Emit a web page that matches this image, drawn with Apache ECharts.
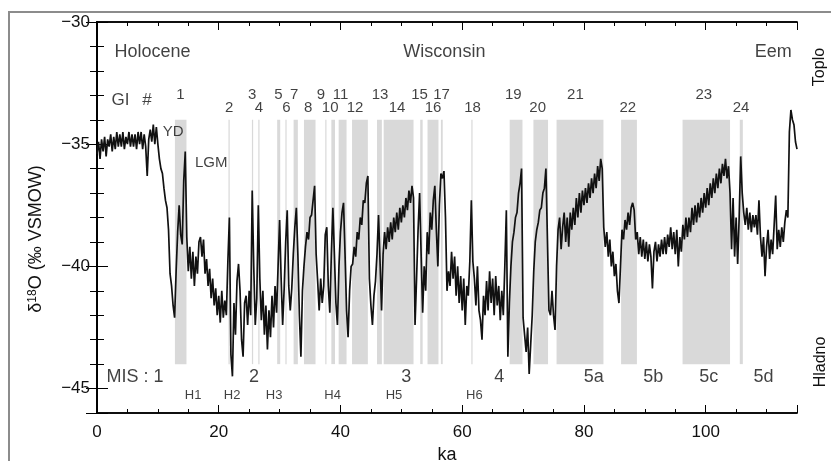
<!DOCTYPE html>
<html><head><meta charset="utf-8">
<script src="https://cdn.jsdelivr.net/npm/echarts@6/dist/echarts.min.js"></script>
<style>html,body{margin:0;padding:0;background:#fff}#c{width:831px;height:461px}</style>
</head><body><div id="c"></div>
<script>
// ---- data ----
const startKa = 0;
const stepKa = 0.25;
const d18O = [
-35.4,-34.9,-35.6,-34.8, -35.3,-34.7,-35.5,-34.8, -35.1,-34.6,-35.3,-34.7, -35.2,-34.5,-35.1,-34.6,
-35.1,-34.5,-35.2,-34.7, -35.0,-34.5,-35.1,-34.6, -35.1,-34.6,-35.2,-34.5, -35.0,-34.5,-35.2,-34.6,
-35.1,-36.3,-34.8,-34.4, -34.9,-34.2,-35.0,-34.3, -35.0,-35.6,-36.0,-36.2, -36.8,-37.3,-37.6,-38.5,
-40.3,-40.8,-41.6,-42.1, -40.2,-38.6,-37.5,-38.7, -39.1,-36.5,-35.3,-38.8, -40.2,-39.2,-40.5,-39.4,
-40.8,-39.6,-40.3,-39.0, -38.8,-39.6,-38.9,-40.3, -39.7,-40.8,-40.1,-41.3, -40.5,-41.6,-40.9,-42.0,
-41.2,-42.3,-41.0,-42.1, -41.4,-42.0,-39.8,-38.0, -43.6,-44.5,-41.5,-42.8, -40.6,-39.9,-41.0,-43.0,
-43.7,-41.5,-41.2,-42.4, -41.0,-42.0,-36.9,-40.0, -42.4,-41.3,-37.5,-40.5, -42.2,-41.0,-42.8,-41.6,
-43.4,-41.8,-42.9,-41.2, -42.5,-40.8,-41.9,-40.0, -38.1,-40.5,-42.4,-40.9, -39.0,-37.7,-40.8,-41.8,
-40.9,-39.5,-38.4,-37.6, -39.5,-42.0,-43.7,-41.0, -40.0,-39.2,-38.6,-38.9, -38.0,-37.9,-37.3,-36.7,
-39.5,-40.6,-41.8,-40.5, -41.5,-40.8,-38.7,-38.4, -40.8,-41.9,-39.5,-37.6, -39.5,-41.5,-42.4,-40.0,
-38.6,-37.8,-37.4,-39.5, -41.8,-42.9,-41.0,-40.0, -39.9,-39.2,-39.6,-38.6, -38.9,-38.0,-38.3,-37.3,
-37.4,-36.6,-36.3,-40.5, -41.6,-42.4,-41.2,-40.6, -39.5,-37.9,-39.8,-41.8, -39.5,-38.6,-39.3,-38.4,
-39.0,-38.2,-38.9,-38.0, -38.6,-37.8,-38.5,-37.6, -38.2,-37.5,-38.0,-37.2, -37.7,-36.9,-37.4,-36.7,
-37.2,-42.4,-40.5,-38.5, -37.0,-39.5,-41.9,-40.0, -41.0,-38.6,-39.5,-37.8, -38.5,-37.3,-36.7,-38.5,
-40.0,-37.5,-36.2,-36.4, -36.1,-38.0,-41.0,-40.2, -40.8,-39.4,-40.5,-39.6, -41.2,-40.0,-41.5,-40.4,
-41.8,-40.5,-42.4,-40.8, -41.2,-39.8,-37.3,-39.8, -40.5,-41.6,-40.0,-41.8, -42.2,-43.0,-41.2,-42.0,
-40.6,-41.8,-40.2,-41.5, -40.5,-42.0,-40.4,-41.6, -40.8,-42.2,-41.0,-42.0, -40.0,-37.7,-43.7,-41.5,
-40.0,-39.0,-38.6,-38.0, -37.8,-37.0,-36.6,-36.0, -42.1,-42.8,-43.5,-42.5, -44.4,-43.2,-42.0,-40.2,
-39.0,-38.5,-38.2,-37.7, -37.6,-37.0,-36.8,-36.0, -36.0,-41.8,-42.0,-41.0, -42.0,-42.6,-40.0,-38.5,
-38.0,-39.3,-38.4,-37.8, -39.0,-38.0,-39.2,-37.8, -38.5,-37.6,-38.3,-37.2, -38.0,-37.0,-37.8,-36.9,
-37.5,-36.8,-37.4,-36.6, -37.2,-36.4,-37.0,-36.2, -36.8,-35.9,-36.5,-35.6, -36.0,-38.4,-39.2,-38.6,
-39.6,-38.9,-40.0,-39.4, -40.4,-39.9,-41.0,-41.5, -40.0,-38.5,-38.9,-38.1, -38.5,-37.8,-38.3,-37.6,
-37.4,-37.7,-38.9,-38.6, -39.5,-38.8,-39.6,-38.9, -39.7,-39.0,-39.8,-39.1, -39.6,-40.9,-39.4,-39.0,
-39.8,-39.1,-39.6,-38.9, -39.5,-38.8,-39.5,-38.7, -39.2,-38.4,-39.3,-38.6, -39.5,-38.5,-40.0,-38.8,
-39.4,-38.3,-38.9,-38.0, -38.8,-38.0,-38.6,-37.6, -38.3,-37.5,-38.2,-37.4, -38.0,-37.2,-37.8,-37.0,
-37.6,-36.8,-37.5,-36.6, -37.2,-36.4,-37.0,-36.2, -36.8,-36.0,-36.6,-35.8, -36.3,-35.6,-36.4,-35.9,
-37.0,-39.3,-37.2,-39.6, -38.0,-39.9,-38.0,-35.5, -37.0,-37.8,-38.3,-37.6, -38.5,-37.8,-38.6,-37.9,
-38.4,-37.9,-38.7,-37.3, -38.8,-39.6,-38.8,-40.4, -39.2,-38.5,-39.7,-38.9, -39.5,-38.3,-37.1,-39.3,
-38.5,-39.2,-38.4,-39.0, -38.2,-37.7,-38.0,-34.5, -33.6,-34.0,-34.2,-34.9,
-35.2
];
// Greenland interstadials (grey bands), ka
const giNames  = ['1','2','3','4','5','6','7','8','9','10','11','12','13','14','15','16','17','18','19','20','21','22','23','24'];
const giStart  = [12.8,21.6,25.45,26.5,29.6,30.95,32.3,34.0,37.5,38.5,39.7,41.9,46.0,47.1,53.1,54.3,56.5,61.5,67.8,71.7,75.5,86.1,96.2,105.6];
const giEnd    = [14.7,21.8,25.65,26.7,30.1,31.15,33.0,35.9,37.7,39.1,41.0,44.5,46.8,52.0,53.5,56.1,56.8,61.7,69.9,74.1,83.2,88.7,104.0,106.1];
const giLabelKa = [13.7,21.7,25.5,26.6,29.8,31.1,32.4,34.7,36.8,38.3,40.0,42.4,46.5,49.3,53.0,55.2,56.6,61.7,68.4,72.4,78.6,87.2,99.7,105.8];
const bandTop = -34, bandBottom = -44;
// marine isotope stages
const misNames = ['MIS : 1','2','3','4','5a','5b','5c','5d'];
const misKa    = [6.25,25.8,50.8,66.1,81.6,91.4,100.5,109.5];
// Heinrich events
const hNames = ['H1','H2','H3','H4','H5','H6'];
const hKa    = [15.8,22.2,29.1,38.7,48.8,62.0];
// period names
const periodNames = ['Holocene','Wisconsin','Eem'];
const periodKa    = [9.13,57.07,111.1];
// other notes
const noteNames = ['GI','#','YD','LGM'];
const noteKa    = [3.87,8.22,12.5,18.75];
const noteY     = [-33.19,-33.19,-34.5,-35.77];

// ---- chart ----
const FONT = '"Liberation Sans", Arial, Helvetica, sans-serif';
const INK = '#111';
const chart = echarts.init(document.getElementById('c'));
const lineData = d18O.map((v, i) => [+(startKa + i * stepKa).toFixed(2), v]);
const bandAreas = giStart.map((s, i) => [{ xAxis: s, yAxis: bandTop }, { xAxis: giEnd[i], yAxis: bandBottom }]);
function items(texts, xs, ys, size) {
  return texts.map((t, i) => ({ value: [xs[i], Array.isArray(ys) ? ys[i] : ys],
    label: { formatter: t, fontSize: size } }));
}
const giRowY = giNames.map((n, i) => (i % 2 === 0 ? -33.0 : -33.5));
const labelData = [].concat(
  items(giNames, giLabelKa, giRowY, 15),
  items(misNames, misKa, -44.52, 18),
  items(hNames, hKa, -45.3, 13),
  items(periodNames, periodKa, -31.23, 18),
  items(noteNames.slice(0, 2), noteKa.slice(0, 2), noteY.slice(0, 2), 17),
  items(noteNames.slice(2), noteKa.slice(2), noteY.slice(2), 15)
);
const minus = v => String(v).replace('-', '\u2212');
const axisLine = { show: true, lineStyle: { color: '#000', width: 1.5 } };
function xA(grid, pos, interval, tickLen, labels, extra) {
  return Object.assign({
    type: 'value', gridIndex: grid, position: pos, min: 0, max: 115, interval: interval,
    axisLine: axisLine, splitLine: { show: false },
    axisTick: { show: true, inside: true, length: tickLen, lineStyle: { color: '#000', width: 1 } },
    axisLabel: { show: labels, margin: 11, color: INK, fontSize: 17, fontFamily: FONT,
      formatter: v => (v % 20 === 0 ? String(v) : '') }
  }, extra || {});
}
function yA(grid, pos, tickLen, labels, extra) {
  return Object.assign({
    type: 'value', gridIndex: grid, position: pos, min: -46, max: -30,
    axisLine: axisLine, splitLine: { show: false },
    axisTick: { show: true, inside: true, length: tickLen, lineStyle: { color: '#000', width: 1 } },
    axisLabel: { show: labels, margin: 7, color: INK, fontSize: 17, fontFamily: FONT,
      formatter: v => (v % 5 === 0 ? minus(v) : '') }
  }, extra || {});
}
const gridBox = { left: 97, right: 34, top: 22, bottom: 48, containLabel: false, outerBoundsMode: 'none' };
chart.setOption({
  animation: false,
  backgroundColor: '#fff',
  textStyle: { fontFamily: FONT },
  grid: [Object.assign({}, gridBox), Object.assign({}, gridBox)],
  xAxis: [
    xA(0, 'bottom', 5, 4, false),
    xA(0, 'top', 5, 4, false),
    xA(1, 'bottom', 20, 8, true, { name: 'ka', nameLocation: 'middle', nameGap: 31,
      nameTextStyle: { color: INK, fontSize: 18, fontFamily: FONT } }),
    xA(1, 'top', 20, 8, false)
  ],
  yAxis: [
    yA(0, 'left', 7, false, { interval: 1 }),
    yA(0, 'right', 7, false, { interval: 1 }),
    yA(1, 'left', 11, true, { splitNumber: 3, minInterval: 5, maxInterval: 5 }),
    yA(1, 'right', 11, false, { splitNumber: 3, minInterval: 5, maxInterval: 5 })
  ],
  series: [
    { type: 'line', xAxisIndex: 0, yAxisIndex: 0, data: [], z: 1, silent: true,
      markArea: { silent: true, itemStyle: { color: '#d9d9d9' }, data: bandAreas } },
    { type: 'line', name: 'δ18O', xAxisIndex: 0, yAxisIndex: 0, data: lineData, z: 3,
      showSymbol: false, symbol: 'none', smooth: false,
      lineStyle: { color: '#111', width: 1.7, join: 'bevel' } },
    { type: 'scatter', xAxisIndex: 0, yAxisIndex: 0, symbol: 'rect', symbolSize: 1, z: 5, silent: true,
      itemStyle: { color: 'rgba(0,0,0,0)' },
      label: { show: true, position: 'inside', color: INK, fontFamily: FONT, align: 'center', verticalAlign: 'middle' },
      labelLayout: { hideOverlap: false },
      data: labelData }
  ],
  graphic: [
    { type: 'rect', silent: true, z: 0, shape: { x: 9, y: 12, width: 840, height: 470 },
      style: { fill: 'none', stroke: '#8c8c8c', lineWidth: 2 } },
    { type: 'text', silent: true, x: 820, y: 67, rotation: Math.PI / 2,
      style: { text: 'Toplo', fontSize: 16, fontFamily: FONT, fill: INK, align: 'center', verticalAlign: 'middle' } },
    { type: 'text', silent: true, x: 821, y: 362, rotation: Math.PI / 2,
      style: { text: 'Hladno', fontSize: 16, fontFamily: FONT, fill: INK, align: 'center', verticalAlign: 'middle' } },
    { type: 'text', silent: true, x: 36, y: 239, rotation: Math.PI / 2,
      style: { text: '{a|δ}{b|18}{a|O (‰ VSMOW)}', fill: INK, align: 'center', verticalAlign: 'middle',
        rich: { a: { fontSize: 18, fontFamily: FONT, fill: INK }, b: { fontSize: 12, fontFamily: FONT, fill: INK, verticalAlign: 'top' } } } }
  ]
});
</script>
</body></html>
